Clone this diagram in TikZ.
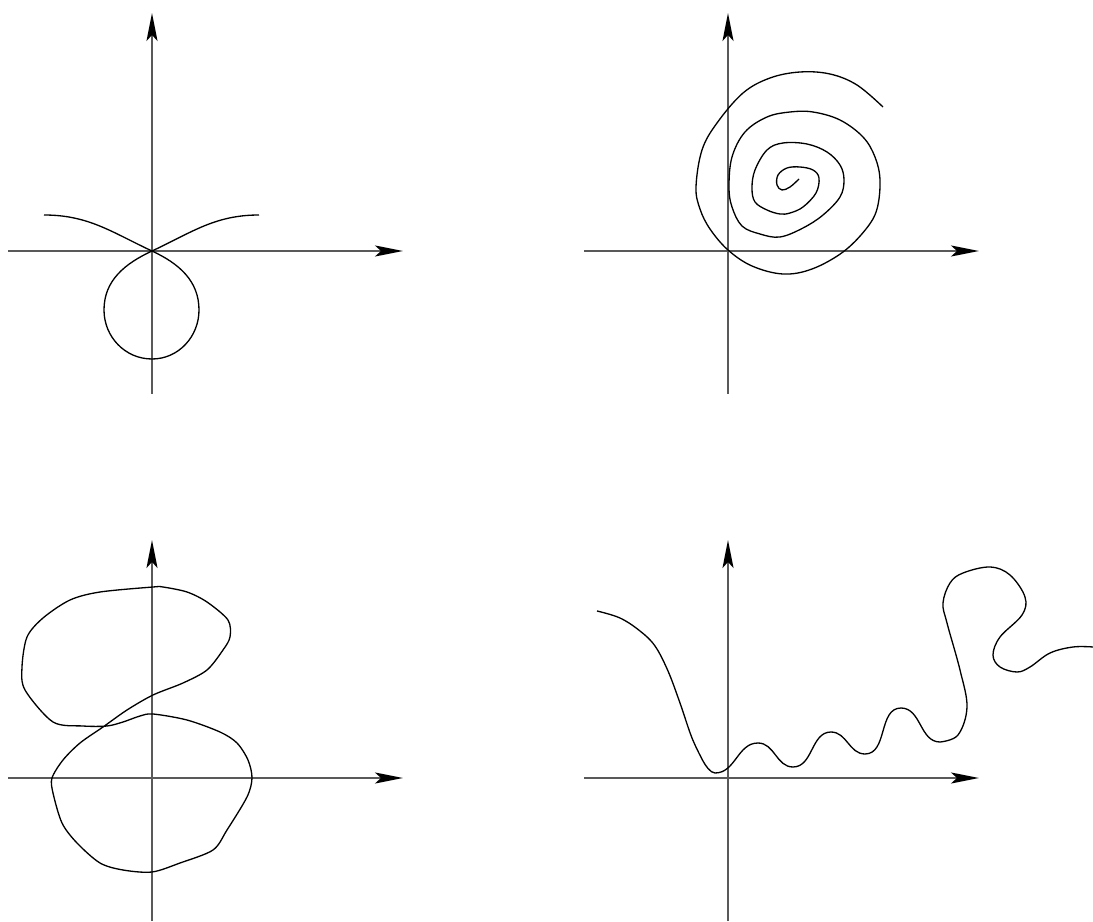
\documentclass[tikz,border=0pt]{standalone}
\usetikzlibrary{arrows.meta}

\begin{document}
\begin{tikzpicture}[x=0.02cm,y=0.02cm,
  axis/.style={line width=1.1pt,black!65,
    -{Stealth[length=0.56cm,width=0.22cm,inset=0.12cm,black]}},
  curve/.style={line width=0.75pt,black,line join=round}]
  % one unit = one pixel of the 1093x921 sheet, y upwards
  \useasboundingbox (0,0) rectangle (1093,921);
  \def\xneg{144}  % axis length left of origin
  \def\xpos{251}  % axis length right of origin
  \def\yneg{143}  % axis length below origin
  \def\ypos{238}  % axis length above origin

  % axes of the four panels
  \foreach \ox/\oy in {152/670,728/670,152/143,728/143}{
    \draw[axis] ({\ox-\xneg},\oy) -- ({\ox+\xpos},\oy);
    \draw[axis] (\ox,{\oy-\yneg}) -- (\ox,{\oy+\ypos});
  }

  % top left: two branches and a loop through the origin
  \draw[curve] (44,706) to[out=0,in=155] (152,670)
    to[out=-25,in=90] (199,611) to[out=-90,in=0] (152,562)
    to[out=180,in=-90] (104,611) to[out=90,in=-155] (152,670)
    to[out=25,in=180] (259,706);

  % top right: spiral
  \draw[curve] plot[smooth,tension=0.6] coordinates {
    (799,742) (790,734) (782,731) (777,736) (778,746) (787,753)
    (800,754) (813,751) (819,743) (816,728) (803,714) (790,708)
    (780,707) (767,711) (755,719) (752,733) (755,751) (767,771)
    (783,778) (807,777) (827,769) (840,756) (844,741) (840,724)
    (823,706) (803,693) (780,684) (760,687) (742,695) (732,714)
    (729,734) (732,764) (745,789) (767,804) (790,809) (813,809)
    (840,801) (863,784) (875,764) (880,741) (877,712) (866,692)
    (843,669) (812,652) (783,647) (752,655) (728,671) (710,692)
    (700,712) (696,734) (702,771) (717,798) (743,828)
    (770,843) (800,849) (830,847) (857,836) (883,814)};

  % bottom left: closed curve with two lobes
  \draw[curve] plot[smooth cycle,tension=0.5] coordinates {
    (53,199) (25,231) (22,254) (27,284) (43,303) (70,321)
    (100,329) (153,334) (163,334) (187,329) (207,319) (228,301)
    (230,284) (223,271) (207,251) (183,238) (153,226) (127,211)
    (103,194) (80,178) (63,161) (52,143) (53,128) (62,98)
    (77,78) (100,58) (123,51) (152,49) (180,58) (213,71)
    (227,91) (247,124) (252,143) (248,161) (237,178) (220,189)
    (187,201) (153,207) (140,205) (123,199) (107,195) (83,195)};

  % bottom right: dip, waves, then a loop running off the sheet
  \draw[curve] plot[smooth,tension=0.6] coordinates {
    (597,310) (620,303) (640,290) (655,275) (668,250) (680,218)
    (692,183) (703,160)}
    to[out=-62,in=180,looseness=0.7] (715,148)
    to[out=0,in=180] (758,178) to[out=0,in=180] (793,154)
    to[out=0,in=180] (831,189) to[out=0,in=180] (865,167)
    to[out=0,in=180] (901,213) to[out=0,in=180] (940,179)
    plot[smooth,tension=0.6] coordinates {
    (940,179) (958,186) (967,214) (960,251) (947,298)
    (943,318) (950,338) (963,348) (990,354) (1010,346) (1025,324)
    (1022,306) (1000,284) (993,266) (1000,254) (1017,249) (1030,254)
    (1050,268) (1073,274) (1093,274)};
\end{tikzpicture}
\end{document}
